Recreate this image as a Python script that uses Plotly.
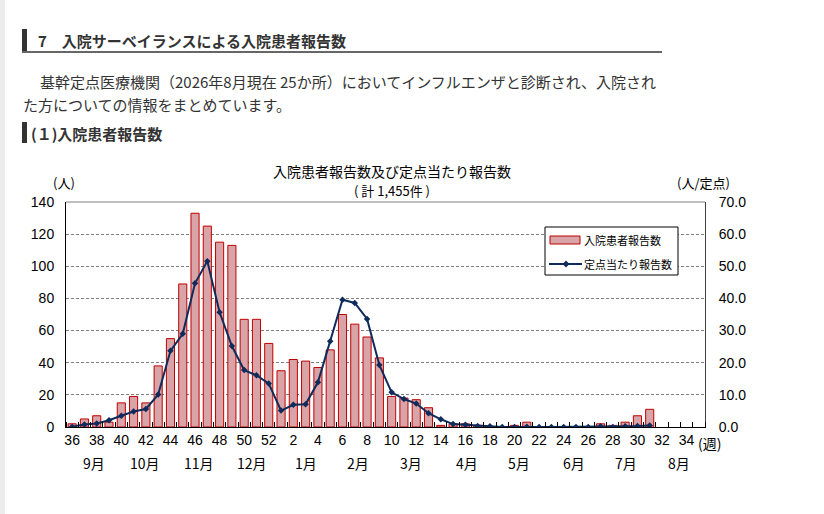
import plotly.graph_objects as go

# ---------------- data ----------------
weeks = [36, 37, 38, 39, 40, 41, 42, 43, 44, 45, 46, 47, 48, 49, 50, 51, 52,
         1, 2, 3, 4, 5, 6, 7, 8, 9, 10, 11, 12, 13, 14, 15, 16, 17, 18, 19, 20,
         21, 22, 23, 24, 25, 26, 27, 28, 29, 30, 31, 32, 33, 34, 35]

patients = [2, 5, 7, 3, 15, 19, 15, 38, 55, 89, 133, 125, 115, 113, 67, 67, 52,
            35, 42, 41, 37, 48, 70, 64, 56, 43, 19, 18, 17, 12, 1, 2, 2, 1, 0, 0, 1,
            3, 0, 0, 0, 0, 0, 2, 1, 3, 7, 11, None, None, None, None]

per_site = [0.1, 0.8, 1.1, 2.1, 3.5, 4.8, 5.6, 10.1, 23.7, 29.0, 44.7, 51.6, 35.7, 25.2, 17.7, 16.1, 13.5,
            5.1, 6.9, 7.1, 13.9, 26.7, 39.6, 38.6, 33.6, 19.3, 10.8, 8.7, 7.3, 4.3, 2.4, 0.9, 0.7, 0.3, 0.2, 0.0, 0.0,
            0.1, 0.0, 0.0, 0.0, 0.0, 0.0, 0.2, 0.0, 0.2, 0.3, 0.5, None, None, None, None]

months = ["9月", "10月", "11月", "12月", "1月", "2月", "3月", "4月", "5月", "6月", "7月", "8月"]
month_pos = [1.8, 5.9, 10.3, 14.6, 19.0, 23.3, 27.6, 32.1, 36.4, 40.8, 45.1, 49.4]

bar_name = "入院患者報告数"
line_name = "定点当たり報告数"
chart_title = "入院患者報告数及び定点当たり報告数"
chart_subtitle = "( 計 1,455件 )"

# ---------------- layout helpers ----------------
W, H = 824, 514
L, R, T, B = 66, 119, 202, 87
PW, PH = W - L - R, H - T - B

BAR_FILL = "#D9A4A7"
BAR_EDGE = "#C00000"
LINE_COL = "#0F2B5B"


def px(x):
    return (x - L) / PW


def py(y):
    return (H - B - y) / PH


xs = list(range(len(weeks)))
tickvals = [i for i, w in zip(xs, weeks) if w % 2 == 0]
ticktext = [str(weeks[i]) for i in tickvals]

JP = "Noto Sans CJK JP"
AR = "Liberation Sans"

fig = go.Figure()
fig.add_trace(go.Bar(
    x=xs, y=patients, name=bar_name, width=0.66,
    marker=dict(color=BAR_FILL, line=dict(color=BAR_EDGE, width=1)),
    showlegend=False,
))
fig.add_trace(go.Scatter(
    x=xs, y=per_site, name=line_name, yaxis="y2", mode="lines+markers",
    line=dict(color=LINE_COL, width=2),
    marker=dict(symbol="diamond", size=5, color=LINE_COL),
    showlegend=False,
))


def prect(x0, y0, x1, y1, **kw):
    d = dict(type="rect", xref="paper", yref="paper", x0=px(x0), x1=px(x1), y0=py(y1), y1=py(y0))
    d.update(kw)
    return d


def pline(x0, y0, x1, y1, **kw):
    d = dict(type="line", xref="paper", yref="paper", x0=px(x0), x1=px(x1), y0=py(y0), y1=py(y1))
    d.update(kw)
    return d


# diamond marker in legend
dcx, dcy, dr = 566, 264, 3.2
diamond_path = "M {:.5f} {:.5f} L {:.5f} {:.5f} L {:.5f} {:.5f} L {:.5f} {:.5f} Z".format(
    px(dcx), py(dcy - dr), px(dcx + dr), py(dcy), px(dcx), py(dcy + dr), px(dcx - dr), py(dcy))

shapes = [
    prect(0, 0, 5, 514, fillcolor="#ececec", line=dict(width=0), layer="below"),
    prect(22, 29, 27, 51, fillcolor="#333333", line=dict(width=0)),
    pline(22, 52, 662, 52, line=dict(color="#333333", width=1.3)),
    prect(22, 122, 27, 143, fillcolor="#333333", line=dict(width=0)),
    dict(type="line", xref="paper", yref="paper", x0=0, x1=1, y0=1, y1=1,
         line=dict(color="#808080", width=1)),
    # manual legend
    prect(545, 227, 678, 275, fillcolor="white", line=dict(color="black", width=1)),
    prect(550, 236, 580, 244, fillcolor=BAR_FILL, line=dict(color=BAR_EDGE, width=1)),
    pline(549, 264, 582, 264, line=dict(color=LINE_COL, width=2)),
    dict(type="path", xref="paper", yref="paper", path=diamond_path,
         fillcolor=LINE_COL, line=dict(color=LINE_COL, width=0.5)),
]

annotations = [
    dict(text="<b>7　入院サーベイランスによる入院患者報告数</b>", x=px(36), y=py(40),
         font=dict(family=JP, size=15, color="#333333")),
    dict(text="基幹定点医療機関（2026年8月現在 25か所）においてインフルエンザと診断され、入院され",
         x=px(38), y=py(82), font=dict(family=JP, size=15, color="#333333")),
    dict(text="た方についての情報をまとめています。", x=px(21), y=py(104),
         font=dict(family=JP, size=15, color="#333333")),
    dict(text="<b>(１)入院患者報告数</b>", x=px(29), y=py(133),
         font=dict(family=JP, size=15, color="#333333")),
    dict(text=bar_name, x=px(582), y=py(240), font=dict(family=JP, size=11, color="black")),
    dict(text=line_name, x=px(582), y=py(264), font=dict(family=JP, size=11, color="black")),
]
for a in annotations:
    a.update(xref="paper", yref="paper", xanchor="left", yanchor="middle", showarrow=False)

chart_ann = [
    dict(text=chart_title, x=px(392), y=py(171), font=dict(family=JP, size=14, color="black")),
    dict(text=chart_subtitle, x=px(392), y=py(190), font=dict(family=JP, size=13, color="black")),
    dict(text="(人)", x=px(64), y=py(182), font=dict(family=JP, size=13, color="black")),
    dict(text="(人/定点)", x=px(703), y=py(182), font=dict(family=JP, size=13, color="black")),
    dict(text="(週)", x=px(709), y=py(443), font=dict(family=JP, size=14, color="black")),
]
for a in chart_ann:
    a.update(xref="paper", yref="paper", xanchor="center", yanchor="middle", showarrow=False)
annotations += chart_ann

for m, p in zip(months, month_pos):
    annotations.append(dict(text=m, x=p, y=py(463), xref="x", yref="paper", showarrow=False,
                            xanchor="center", yanchor="middle",
                            font=dict(family=JP, size=14, color="black")))

fig.update_layout(
    width=W, height=H,
    margin=dict(l=L, r=R, t=T, b=B, autoexpand=False),
    paper_bgcolor="white", plot_bgcolor="white",
    bargap=0,
    showlegend=False,
    hovermode=False,
    xaxis=dict(range=[-0.5, len(weeks) - 0.5], tickmode="array", tickvals=tickvals,
               ticktext=ticktext, ticks="", showgrid=False, zeroline=False,
               showline=True, linecolor="black", linewidth=1,
               tickfont=dict(family=AR, size=14, color="black"),
               minor=dict(tickmode="array", tickvals=[i - 0.5 for i in range(len(weeks) + 1)],
                          ticks="inside", ticklen=5, tickcolor="black", tickwidth=1, showgrid=False)),
    yaxis=dict(range=[0, 140], dtick=20, tick0=0, showgrid=True, gridcolor="#7f7f7f",
               griddash="3px,2px", gridwidth=1, zeroline=False,
               showline=True, linecolor="black", linewidth=1, ticks="",
               ticklabelstandoff=8,
               tickfont=dict(family=AR, size=14, color="black")),
    yaxis2=dict(range=[0, 70], dtick=10, tick0=0, tickformat=".1f", overlaying="y", side="right",
                showgrid=False, zeroline=False, showline=True, linecolor="#404040", linewidth=1,
                ticks="", ticklabelstandoff=10,
                tickfont=dict(family=AR, size=14, color="black")),
    shapes=shapes,
    annotations=annotations,
)

fig.write_html("out.html",
               config={"displayModeBar": False, "staticPlot": True},
               post_script="document.body.style.margin='0';document.body.style.overflow='hidden';")
